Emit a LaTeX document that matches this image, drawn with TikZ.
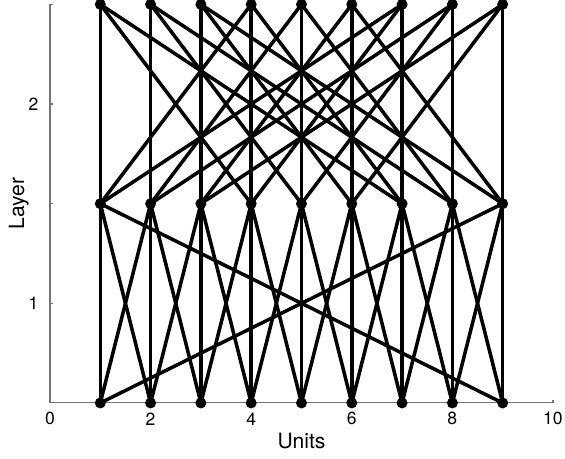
\documentclass[tikz,border=0pt]{standalone}
\usepackage{fontspec}
\setmainfont{TeX Gyre Heros}
\usepackage{tikz}
\usetikzlibrary{positioning}

\begin{document}
\begin{tikzpicture}[
    x=1.006cm, y=3.986cm,
    unit/.style={
        circle,
        fill=black,
        inner sep=0pt,
        minimum size=0.22cm
    },
    link/.style={
        line width=2pt,
        draw=black
    },
    axis/.style={
        draw=black!55,
        line width=0.6pt
    },
    ticklabel/.style={
        font=\fontsize{10pt}{12pt}\selectfont
    }
]
    \useasboundingbox (-0.994,0.219) rectangle (10.239,2.522);

    % axes
    \draw[axis] (0,2.5) -- (0,0.5) -- (10,0.5);
    \foreach \t in {0,2,...,10}
        \draw[axis] (\t,0.5) -- ++(0,0.015);
    \foreach \t in {1,1.5,2,2.5}
        \draw[axis] (0,\t) -- ++(0.06,0);
    \foreach \t in {0,2,...,10}
        \node[ticklabel] (xl\t) at (\t,0.42) {\t};
    \node[ticklabel, left=3pt] (yl1) at (0,1) {1};
    \node[ticklabel, left=3pt] (yl2) at (0,2) {2};
    \node[ticklabel, font=\fontsize{12pt}{14pt}\selectfont] (xlab) at (5,0.31) {Units};
    \node[ticklabel, font=\fontsize{12pt}{14pt}\selectfont, rotate=90] (ylab) at (-0.62,1.5) {Layer};

    % units of each layer
    \foreach \i in {1,...,9} {
        \node[unit] (b\i) at (\i,0.5) {};
        \node[unit] (m\i) at (\i,1.5) {};
        \node[unit] (t\i) at (\i,2.5) {};
    }

    % bottom -> middle: same unit and both neighbours (wrapping round)
    \foreach \i in {1,...,9} {
        \pgfmathtruncatemacro{\nxt}{mod(\i,9)+1}
        \pgfmathtruncatemacro{\prv}{mod(\i+7,9)+1}
        \draw[link] (b\i.center) -- (m\i.center);
        \draw[link] (b\i.center) -- (m\nxt.center);
        \draw[link] (b\i.center) -- (m\prv.center);
    }

    % middle -> top: same unit and three steps either way
    \foreach \i in {1,...,9} {
        \pgfmathtruncatemacro{\up}{mod(\i+2,9)+1}
        \pgfmathtruncatemacro{\dn}{mod(\i+5,9)+1}
        \draw[link] (m\i.center) -- (t\i.center);
        \draw[link] (m\i.center) -- (t\up.center);
        \draw[link] (m\i.center) -- (t\dn.center);
    }
\end{tikzpicture}
\end{document}
